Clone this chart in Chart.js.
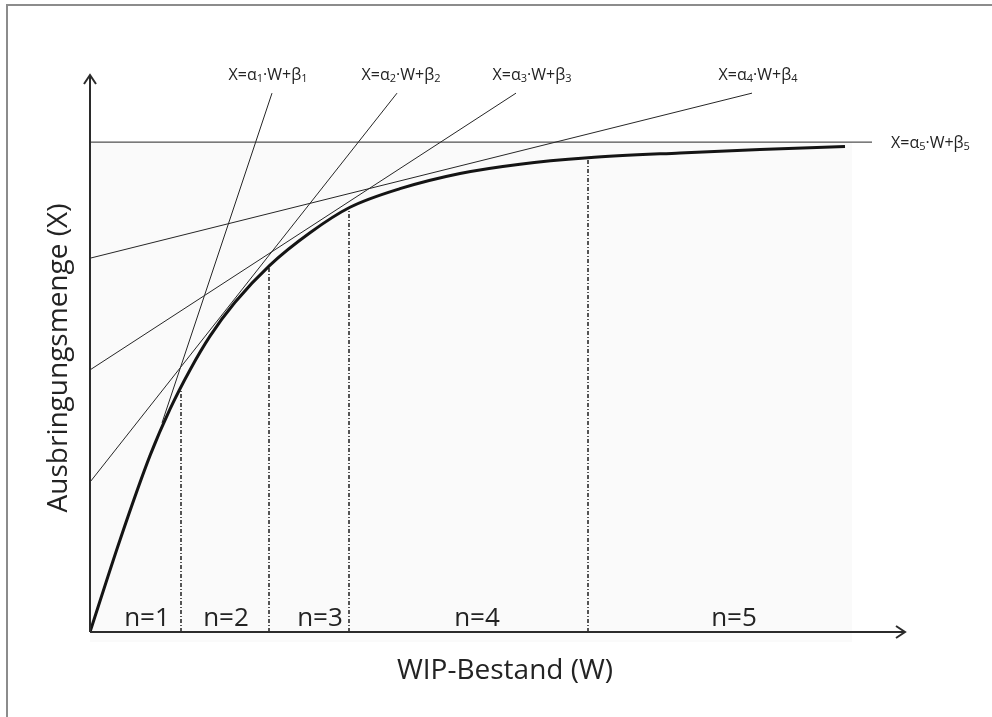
<!DOCTYPE html>
<html>
<head>
<meta charset="utf-8">
<script src="https://cdn.jsdelivr.net/npm/chart.js@4"></script>
<style>
  html, body { margin: 0; padding: 0; background: #fff; }
  #wrap { width: 992px; height: 717px; position: relative; }
</style>
</head>
<body>
<div id="wrap"><canvas id="wipChart"></canvas></div>
<script>
// Kennlinie: WIP-Bestand (W) -> Ausbringungsmenge (X), normiert auf X_max = 1
const curveW = [0, 0.30, 0.60, 0.80, 1.00, 1.20, 1.45, 1.80, 2.20, 2.60, 3.10, 3.70, 4.30, 4.98, 5.90, 6.70, 7.55];
const curveX = [0, 0.188, 0.360, 0.455, 0.535, 0.604, 0.673, 0.749, 0.815, 0.867, 0.905, 0.936, 0.955, 0.968, 0.978, 0.985, 0.991];

// Tangenten X = a_n * W + b_n (Anfangs- und Endpunkt)
const tangentIndex = ["1", "2", "3", "4", "5"];
const tangentFromW = [0.72, 0, 0, 0, 0];
const tangentFromX = [0.427, 0.306, 0.535, 0.763, 1.0];
const tangentToW = [1.82, 3.07, 4.26, 6.62, 7.82];
const tangentToX = [1.10, 1.10, 1.10, 1.10, 1.0];

// Bereichsgrenzen
const boundaryW = [0.91, 1.79, 2.59, 4.98];
const boundaryX = [0.494, 0.745, 0.866, 0.968];
const regionLabels = ["n=1", "n=2", "n=3", "n=4", "n=5"];

const W_MAX = 8.15;
const X_MAX = 1.137;

const textColor = "#232323";
const fontFam = "'Open Sans', sans-serif";

const datasets = [];

datasets.push({
  label: "Kennlinie",
  data: curveW.map((w, i) => ({ x: w, y: curveX[i] })),
  borderColor: "#141414",
  borderWidth: 3,
  pointRadius: 0,
  cubicInterpolationMode: "monotone",
  order: 0
});

tangentIndex.forEach((n, i) => {
  datasets.push({
    label: "Tangente " + n,
    data: [
      { x: tangentFromW[i], y: tangentFromX[i] },
      { x: tangentToW[i], y: tangentToX[i] }
    ],
    borderColor: "#262626",
    borderWidth: 1,
    pointRadius: 0,
    order: 1
  });
});

boundaryW.forEach((w, i) => {
  datasets.push({
    label: "Grenze " + (i + 1),
    data: [{ x: w, y: 0 }, { x: w, y: boundaryX[i] }],
    borderColor: "#1e1e1e",
    borderWidth: 1.5,
    borderDash: [4, 2, 1, 2],
    pointRadius: 0,
    order: 2
  });
});

function drawFormula(ctx, idx, x, y, align) {
  const main = "16px " + fontFam;
  const sub = "11px " + fontFam;
  const parts = [["X=\u03b1", main, 0], [idx, sub, 4], ["\u00b7W+\u03b2", main, 0], [idx, sub, 4]];
  let total = 0;
  parts.forEach(p => { ctx.font = p[1]; total += ctx.measureText(p[0]).width; });
  let cx = align === "center" ? x - total / 2 : x;
  ctx.textAlign = "left";
  ctx.textBaseline = "middle";
  parts.forEach(p => {
    ctx.font = p[1];
    ctx.fillText(p[0], cx, y + p[2]);
    cx += ctx.measureText(p[0]).width;
  });
}

function chevron(ctx, tipX, tipY, dx, dy) {
  // offene Pfeilspitze
  ctx.beginPath();
  if (dx !== 0) {
    ctx.moveTo(tipX - dx * 9, tipY - 6);
    ctx.lineTo(tipX, tipY);
    ctx.lineTo(tipX - dx * 9, tipY + 6);
  } else {
    ctx.moveTo(tipX - 6, tipY - dy * 9);
    ctx.lineTo(tipX, tipY);
    ctx.lineTo(tipX + 6, tipY - dy * 9);
  }
  ctx.stroke();
}

const decorations = {
  id: "decorations",
  beforeDatasetsDraw(chart) {
    const { ctx, scales: { x, y }, chartArea } = chart;
    ctx.save();
    // Rahmen
    ctx.strokeStyle = "#8c8c8c";
    ctx.lineWidth = 2;
    ctx.beginPath();
    ctx.moveTo(7, 720);
    ctx.lineTo(7, 5);
    ctx.lineTo(995, 5);
    ctx.stroke();
    // leicht grauer Hintergrund
    ctx.fillStyle = "#fafafa";
    const top = y.getPixelForValue(1.0);
    ctx.fillRect(x.getPixelForValue(0), top, x.getPixelForValue(7.62) - x.getPixelForValue(0), chartArea.bottom + 10 - top);
    ctx.restore();
  },
  afterDatasetsDraw(chart) {
    const { ctx, scales: { x, y } } = chart;
    const x0 = x.getPixelForValue(0), y0 = y.getPixelForValue(0);
    const xEnd = x.getPixelForValue(W_MAX), yEnd = y.getPixelForValue(X_MAX);
    ctx.save();
    // Achsen
    ctx.strokeStyle = "#2b2b2b";
    ctx.lineWidth = 2;
    ctx.beginPath();
    ctx.moveTo(x0, y0);
    ctx.lineTo(xEnd, y0);
    ctx.moveTo(x0, y0);
    ctx.lineTo(x0, yEnd);
    ctx.stroke();
    chevron(ctx, xEnd, y0, 1, 0);
    chevron(ctx, x0, yEnd, 0, -1);

    ctx.fillStyle = textColor;
    // Formeln
    const dx = [-4, 4, 16, 6];
    for (let i = 0; i < 4; i++) {
      drawFormula(ctx, tangentIndex[i], x.getPixelForValue(tangentToW[i]) + dx[i], 75, "center");
    }
    drawFormula(ctx, tangentIndex[4], x.getPixelForValue(tangentToW[4]) + 19, y.getPixelForValue(tangentToX[4]) + 1, "left");

    // Bereiche n=1..5
    const labelW = [0.57, 1.36, 2.30, 3.87, 6.44];
    ctx.font = "26px " + fontFam;
    ctx.textAlign = "center";
    ctx.textBaseline = "alphabetic";
    regionLabels.forEach((t, i) => ctx.fillText(t, x.getPixelForValue(labelW[i]), y0 - 6));

    // Achsentitel
    ctx.font = "28px " + fontFam;
    ctx.fillText("WIP-Bestand (W)", 505, 679);
    ctx.translate(67, 358);
    ctx.rotate(-Math.PI / 2);
    ctx.fillText("Ausbringungsmenge (X)", 0, 0);
    ctx.restore();
  }
};

new Chart(document.getElementById("wipChart"), {
  type: "line",
  data: { datasets: datasets },
  options: {
    responsive: true,
    maintainAspectRatio: false,
    animation: false,
    layout: { padding: { left: 90, right: 87, top: 75, bottom: 85 } },
    plugins: {
      legend: { display: false },
      tooltip: { enabled: false }
    },
    scales: {
      x: { type: "linear", min: 0, max: W_MAX, display: false },
      y: { type: "linear", min: 0, max: X_MAX, display: false }
    }
  },
  plugins: [decorations]
});
</script>
</body>
</html>
